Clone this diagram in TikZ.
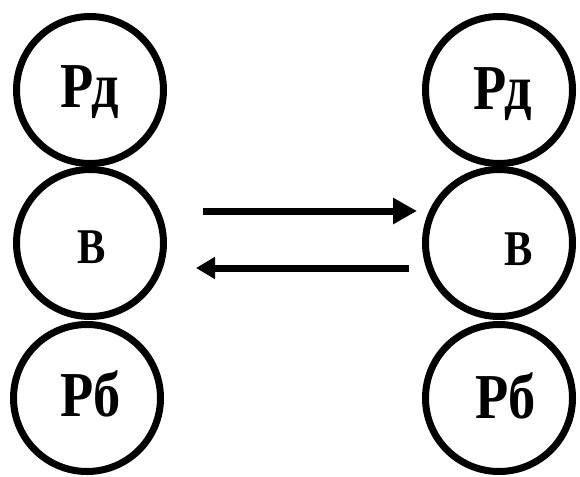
\documentclass[tikz,border=0pt]{standalone}
\usepackage{fontspec}
\newfontfamily\lblfont{Liberation Serif}[UprightFont={* Bold}]
\usetikzlibrary{arrows.meta}
\tikzset{
  ring/.style={draw=black, line width=7pt, circle, minimum size=147pt, inner sep=0pt},
  bigtxt/.style={inner sep=0pt, anchor=base west, font=\fontsize{64}{64}\lblfont},
  midtxt/.style={inner sep=0pt, anchor=base west, font=\fontsize{50}{50}\lblfont},
  flow/.style={line width=7pt, -{Triangle[length=24pt,width=25pt]}},
  backflow/.style={line width=7pt, -{Triangle[length=19pt,width=21pt]}}
}
\begin{document}
\begin{tikzpicture}[x=1pt,y=-1pt]
\useasboundingbox[fill=white] (0,0) rectangle (580,476);
% left column
\node[ring] (lt) at (90,90) {};
\node[ring] (lm) at (90,243) {};
\node[ring] (lb) at (87,398) {};
% right column
\node[ring] (rt) at (499,90) {};
\node[ring] (rm) at (499,243) {};
\node[ring] (rb) at (499,398) {};
% labels
\node[bigtxt] (ltl) at (60,107) {\scalebox{0.85}[1]{Рд}};
\node[midtxt] (lml) at (77,263) {\scalebox{0.85}[1]{В}};
\node[bigtxt] (lbl) at (60,416) {\scalebox{0.85}[1]{Рб}};
\node[bigtxt] (rtl) at (473,110) {\scalebox{0.85}[1]{Рд}};
\node[midtxt] (rml) at (504,265) {\scalebox{0.85}[1]{В}};
\node[bigtxt] (rbl) at (475,418) {\scalebox{0.85}[1]{Рб}};
% arrows
\coordinate (a1s) at (203,211);
\coordinate (a1e) at (417,211);
\coordinate (a2s) at (409,268);
\coordinate (a2e) at (196,268);
\draw[flow] (a1s) -- (a1e);
\draw[backflow] (a2s) -- (a2e);
\end{tikzpicture}
\end{document}
